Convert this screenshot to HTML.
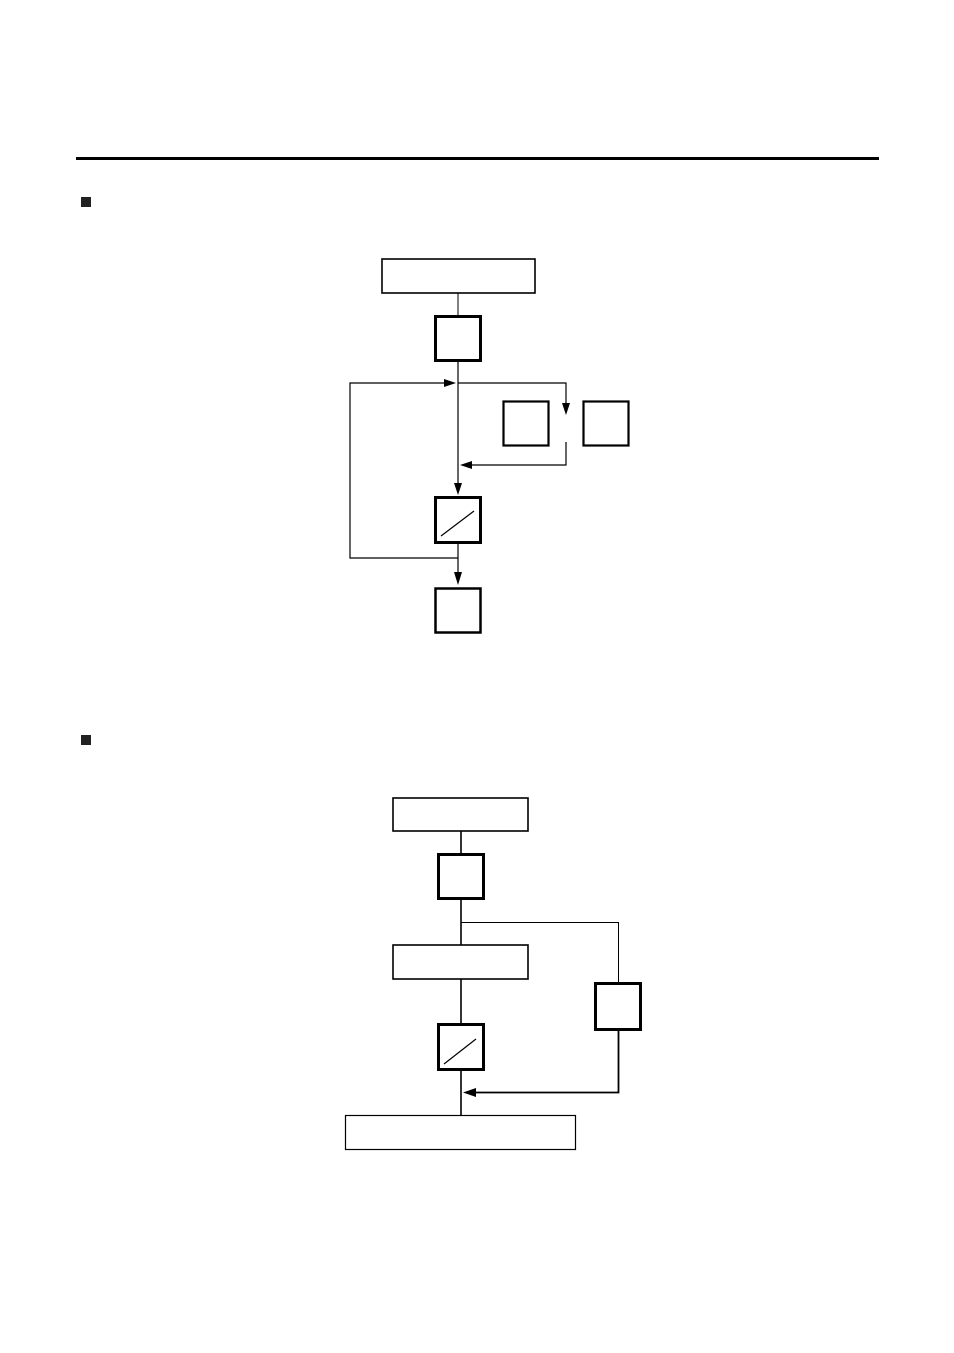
<!DOCTYPE html>
<html><head><style>body{margin:0;background:#fff}</style></head><body>
<svg width="954" height="1348" viewBox="0 0 954 1348" xmlns="http://www.w3.org/2000/svg" fill="none" stroke="#000">
<line x1="76" y1="158.5" x2="879" y2="158.5" stroke-width="3"/>
<rect x="81" y="197" width="10" height="10" fill="#222" stroke="none"/>
<rect x="81" y="735" width="10" height="10" fill="#222" stroke="none"/>
<!-- diagram 1 -->
<rect x="382" y="259" width="153" height="34" stroke-width="1.6"/>
<line x1="458" y1="293" x2="458" y2="316" stroke-width="1"/>
<rect x="435.5" y="316.5" width="45" height="44" stroke-width="3"/>
<line x1="458" y1="361" x2="458" y2="484" stroke-width="1.2"/>
<polygon points="454,483 462,483 458,495" fill="#000" stroke="none"/>
<polyline points="458,383 566,383 566,404" stroke-width="1.2"/>
<polygon points="562,403 570,403 566,415" fill="#000" stroke="none"/>
<polyline points="566,442 566,465 470,465" stroke-width="1.2"/>
<polygon points="472,461 472,469 460,465" fill="#000" stroke="none"/>
<rect x="503.5" y="401.5" width="45" height="44" stroke-width="2.2"/>
<rect x="583.5" y="401.5" width="45" height="44" stroke-width="2.2"/>
<polyline points="458,558 350,558 350,383 446,383" stroke-width="1.2"/>
<polygon points="444,379 444,387 456,383" fill="#000" stroke="none"/>
<rect x="435.5" y="497.5" width="45" height="45" stroke-width="3"/>
<line x1="441" y1="536" x2="474" y2="511" stroke-width="1.2"/>
<line x1="458" y1="543" x2="458" y2="573" stroke-width="1.2"/>
<polygon points="454,572 462,572 458,585" fill="#000" stroke="none"/>
<rect x="435.5" y="588.5" width="45" height="44" stroke-width="2.5"/>
<!-- diagram 2 -->
<rect x="393" y="798" width="135" height="33" stroke-width="1.6"/>
<line x1="461" y1="831" x2="461" y2="854" stroke-width="1.6"/>
<rect x="438.5" y="854.5" width="45" height="44" stroke-width="3"/>
<line x1="461" y1="899" x2="461" y2="945" stroke-width="1.6"/>
<polyline points="461,922.5 618.5,922.5 618.5,983" stroke-width="1"/>
<rect x="393" y="945" width="135" height="34" stroke-width="1.6"/>
<line x1="461" y1="979" x2="461" y2="1024" stroke-width="1.6"/>
<rect x="438.5" y="1024.5" width="45" height="45" stroke-width="3"/>
<line x1="444" y1="1064" x2="476" y2="1039" stroke-width="1.2"/>
<line x1="461" y1="1069" x2="461" y2="1115" stroke-width="1.6"/>
<rect x="595.5" y="983.5" width="45" height="46" stroke-width="3"/>
<polyline points="618.5,1030 618.5,1092.5 473,1092.5" stroke-width="1.8"/>
<polygon points="476,1088 476,1097 463,1092.5" fill="#000" stroke="none"/>
<rect x="345.5" y="1115.5" width="230" height="34" stroke-width="1.2"/>
</svg>
</body></html>
